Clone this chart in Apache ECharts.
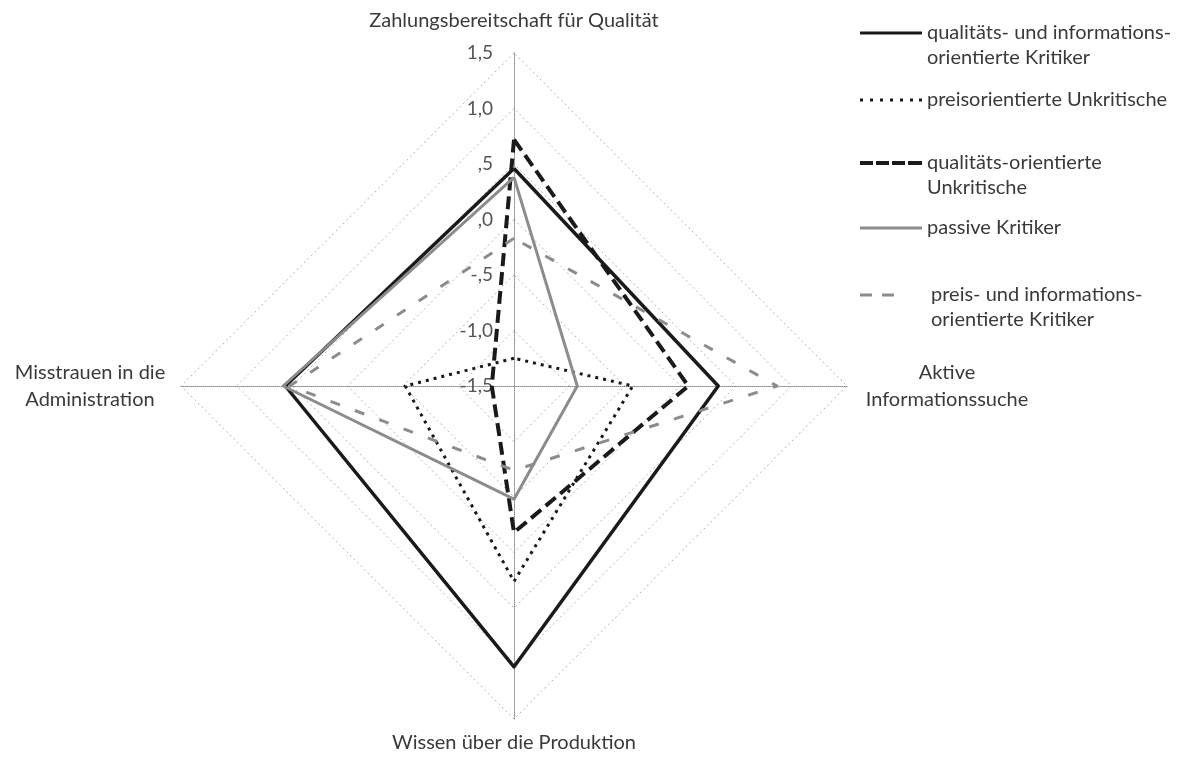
<!DOCTYPE html>
<html><head><meta charset="utf-8">
<script src="https://cdn.jsdelivr.net/npm/echarts@6/dist/echarts.min.js"></script>
<style>html,body{margin:0;padding:0;background:#fff}#c{width:1187px;height:760px}</style>
</head><body><div id="c"></div>
<script>
// indicator order: top, left, bottom, right (ECharts goes counter-clockwise)
const axisNames = ['Zahlungsbereitschaft für Qualität', 'Misstrauen in die\nAdministration', 'Wissen über die Produktion', 'Aktive\nInformationssuche'];
const tickLabels = ['-1,5', '-1,0', '-,5', ',0', ',5', '1,0', '1,5'];
const seriesNames = [
  'qualitäts- und informations-\norientierte Kritiker',
  'preisorientierte Unkritische',
  'qualitäts-orientierte\nUnkritische',
  'passive Kritiker',
  'preis- und informations-\norientierte Kritiker'
];
const qualInfoKritiker = [0.46, 0.56, 1.03, 0.34];
const preisUnkritische = [-1.25, -0.52, 0.26, -0.43];
const qualUnkritische = [0.72, -1.30, -0.18, 0.07];
const passiveKritiker = [0.38, 0.58, -0.48, -0.93];
const preisInfoKritiker = [-0.17, 0.52, -0.74, 0.87];

const FONT = 'Lato';
const FS = 20;
const TXT = '#3a3a3a';
const seriesValues = [qualInfoKritiker, preisUnkritische, qualUnkritische, passiveKritiker, preisInfoKritiker];
const lineStyles = [
  {color: '#1a1a1a', width: 3.5, type: 'solid'},
  {color: '#1a1a1a', width: 3, type: [3, 5]},
  {color: '#1a1a1a', width: 4, type: [13, 6]},
  {color: '#8c8c8c', width: 3, type: 'solid'},
  {color: '#8c8c8c', width: 3, type: [10, 16]}
];
const legendIcons = [
  'rect',
  'path://M0,0h3v3h-3zM10,0h3v3h-3zM20,0h3v3h-3zM30,0h3v3h-3zM40,0h3v3h-3zM50,0h3v3h-3zM59,0h3v3h-3z',
  'path://M0,0h13v4h-13zM16,0h13v4h-13zM32,0h13v4h-13zM48,0h14v4h-14z',
  'rect',
  'path://M0,0h12v3h-12zM22,0h12v3h-12zM66,0h0.01v0.01h-0.01z'
];
const legendIconW = [62, 62, 62, 62, 66];
const legendIconH = [3, 3, 4, 3, 3];
const legendCenters = [33, 100, 163, 228, 295];

const chart = echarts.init(document.getElementById('c'));

const indicator = axisNames.map((n, i) => {
  const o = {name: n, min: -1.5, max: 1.5};
  if (i === 0) o.axisLabel = {show: true};
  return o;
});

const legends = seriesNames.map((name, i) => {
  const twoLine = name.indexOf('\n') >= 0;
  const h = twoLine ? 75 : 25;
  return {
    left: 860,
    top: legendCenters[i] - h / 2,
    orient: 'vertical',
    padding: 0,
    selectedMode: false,
    itemWidth: legendIconW[i],
    itemHeight: legendIconH[i],
    itemStyle: {borderWidth: 0},
    formatter: function (n) { return n.indexOf('\n') >= 0 ? '\n' + n : n; },
    textStyle: {fontFamily: FONT, fontSize: FS, color: TXT, lineHeight: 25},
    data: [{name: name, icon: legendIcons[i]}]
  };
});

chart.setOption({
  animation: false,
  backgroundColor: '#fff',
  legend: legends,
  radar: {
    center: [514, 386],
    radius: 333,
    startAngle: 90,
    splitNumber: 6,
    shape: 'polygon',
    indicator: indicator,
    nameGap: 12,
    axisName: {
      color: TXT,
      fontFamily: FONT,
      fontSize: FS,
      formatter: function (name) {
        if (name === axisNames[0]) return '{t|' + name + '}';
        if (name === axisNames[2]) return '{b|' + name + '}';
        if (name === axisNames[1]) return name.split('\n').map(s => '{l|' + s + '}').join('\n');
        return name.split('\n').map(s => '{r|' + s + '}').join('\n');
      },
      rich: {
        t: {fontFamily: FONT, fontSize: FS, color: TXT, padding: [0, 0, 10, 0]},
        b: {fontFamily: FONT, fontSize: FS, color: TXT, padding: [2, 0, 0, 0]},
        l: {fontFamily: FONT, fontSize: FS, color: TXT, width: 158, align: 'center', lineHeight: 27},
        r: {fontFamily: FONT, fontSize: FS, color: TXT, width: 176, align: 'center', lineHeight: 27}
      }
    },
    axisLabel: {
      show: false,
      showMinLabel: true,
      showMaxLabel: true,
      margin: 21,
      color: '#555',
      fontFamily: FONT,
      fontSize: 19,
      formatter: function (v) {
        const idx = Math.round((v + 1.5) / 0.5);
        return tickLabels[idx];
      }
    },
    axisLine: {lineStyle: {color: '#8a8a8a', type: 'dotted', width: 1}},
    axisTick: {show: false},
    splitLine: {lineStyle: {color: '#b5b5b5', type: [2, 3], width: 1}},
    splitArea: {show: false}
  },
  series: [{
    type: 'radar',
    symbol: 'none',
    silent: true,
    data: seriesNames.map((name, i) => ({
      name: name,
      value: seriesValues[i],
      lineStyle: lineStyles[i],
      itemStyle: {color: lineStyles[i].color}
    }))
  }]
});
</script>
</body></html>
